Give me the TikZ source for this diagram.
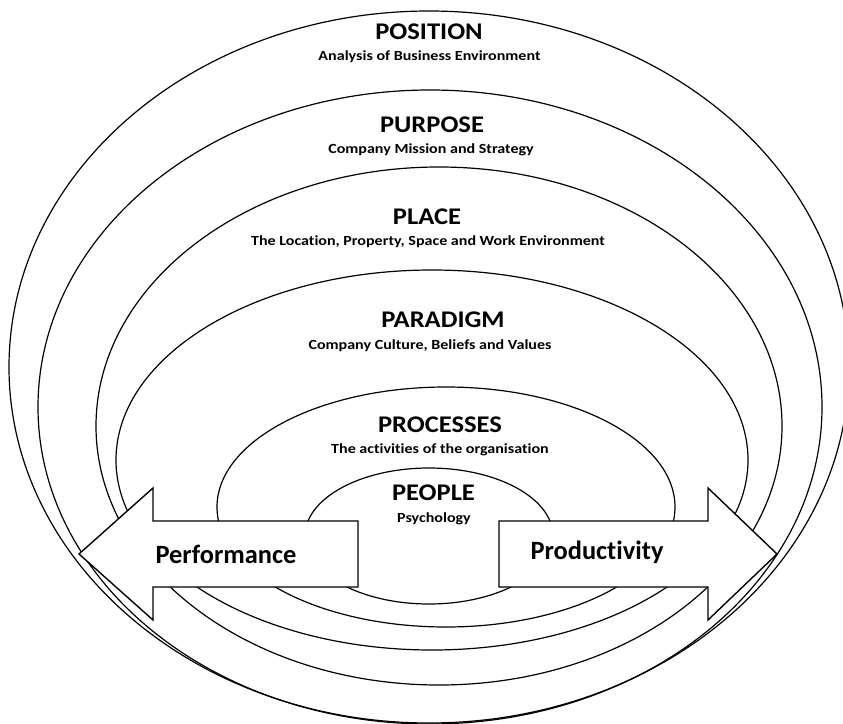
\documentclass[tikz,border=0pt]{standalone}
\usepackage{fontspec}
\setmainfont{Carlito}[Ligatures=CommonOff]
% ring captions are set slightly wide
\newcommand{\ringhead}[1]{\scalebox{1.11}[1]{#1}}
\newcommand{\ringnote}[1]{\scalebox{1.15}[1]{#1}}
\begin{document}
\begin{tikzpicture}[x=1bp,y=-1bp,
  ring/.style={draw=black,line width=1.2bp},
  bigarrow/.style={draw=black,fill=white,line width=1.4bp,line join=miter},
  title/.style={font=\bfseries\fontsize{24}{28}\selectfont,anchor=base,inner sep=0pt},
  sub/.style={font=\bfseries\fontsize{14}{16}\selectfont,anchor=base,inner sep=0pt},
  arrowtext/.style={font=\bfseries\fontsize{26.5}{30}\selectfont,anchor=base,inner sep=0pt}]
\useasboundingbox (0,0) rectangle (843,724);
\clip (0,0) rectangle (843,724);
% nested rings, outermost first
\draw[ring] (429,367) ellipse [x radius=420, y radius=356];
\draw[ring] (430,407) ellipse [x radius=392, y radius=317];
\draw[ring] (439,426) ellipse [x radius=343, y radius=259];
\draw[ring] (432,460) ellipse [x radius=316, y radius=190];
\draw[ring] (446,507) ellipse [x radius=229, y radius=120];
\draw[ring] (429,536) ellipse [x radius=124, y radius=68];
% the two block arrows
\draw[bigarrow] (79,554) -- (153,488) -- (153,521) -- (358,521) -- (358,587) -- (153,587) -- (153,620) -- cycle;
\draw[bigarrow] (777,554) -- (708,488) -- (708,521) -- (499,521) -- (499,587) -- (708,587) -- (708,620) -- cycle;
% labels
\node[title] (position) at (429,40) {\ringhead{POSITION}};
\node[sub] (positionsub) at (429.5,61) {\ringnote{Analysis of Business Environment}};
\node[title] (purpose) at (432,133) {\ringhead{PURPOSE}};
\node[sub] (purposesub) at (431,154) {\ringnote{Company Mission and Strategy}};
\node[title] (place) at (427,224) {\ringhead{PLACE}};
\node[sub] (placesub) at (428,245) {\ringnote{The Location, Property, Space and Work Environment}};
\node[title] (paradigm) at (443,327) {\ringhead{PARADIGM}};
\node[sub] (paradigmsub) at (430,349) {\ringnote{Company Culture, Beliefs and Values}};
\node[title] (processes) at (440,432) {\ringhead{PROCESSES}};
\node[sub] (processessub) at (440,453) {\ringnote{The activities of the organisation}};
\node[title] (people) at (433.5,500) {\ringhead{PEOPLE}};
\node[sub] (peoplesub) at (434,522) {\ringnote{Psychology}};
\node[arrowtext] (performance) at (226,563) {Performance};
\node[arrowtext] (productivity) at (597,559) {Productivity};
\end{tikzpicture}
\end{document}
